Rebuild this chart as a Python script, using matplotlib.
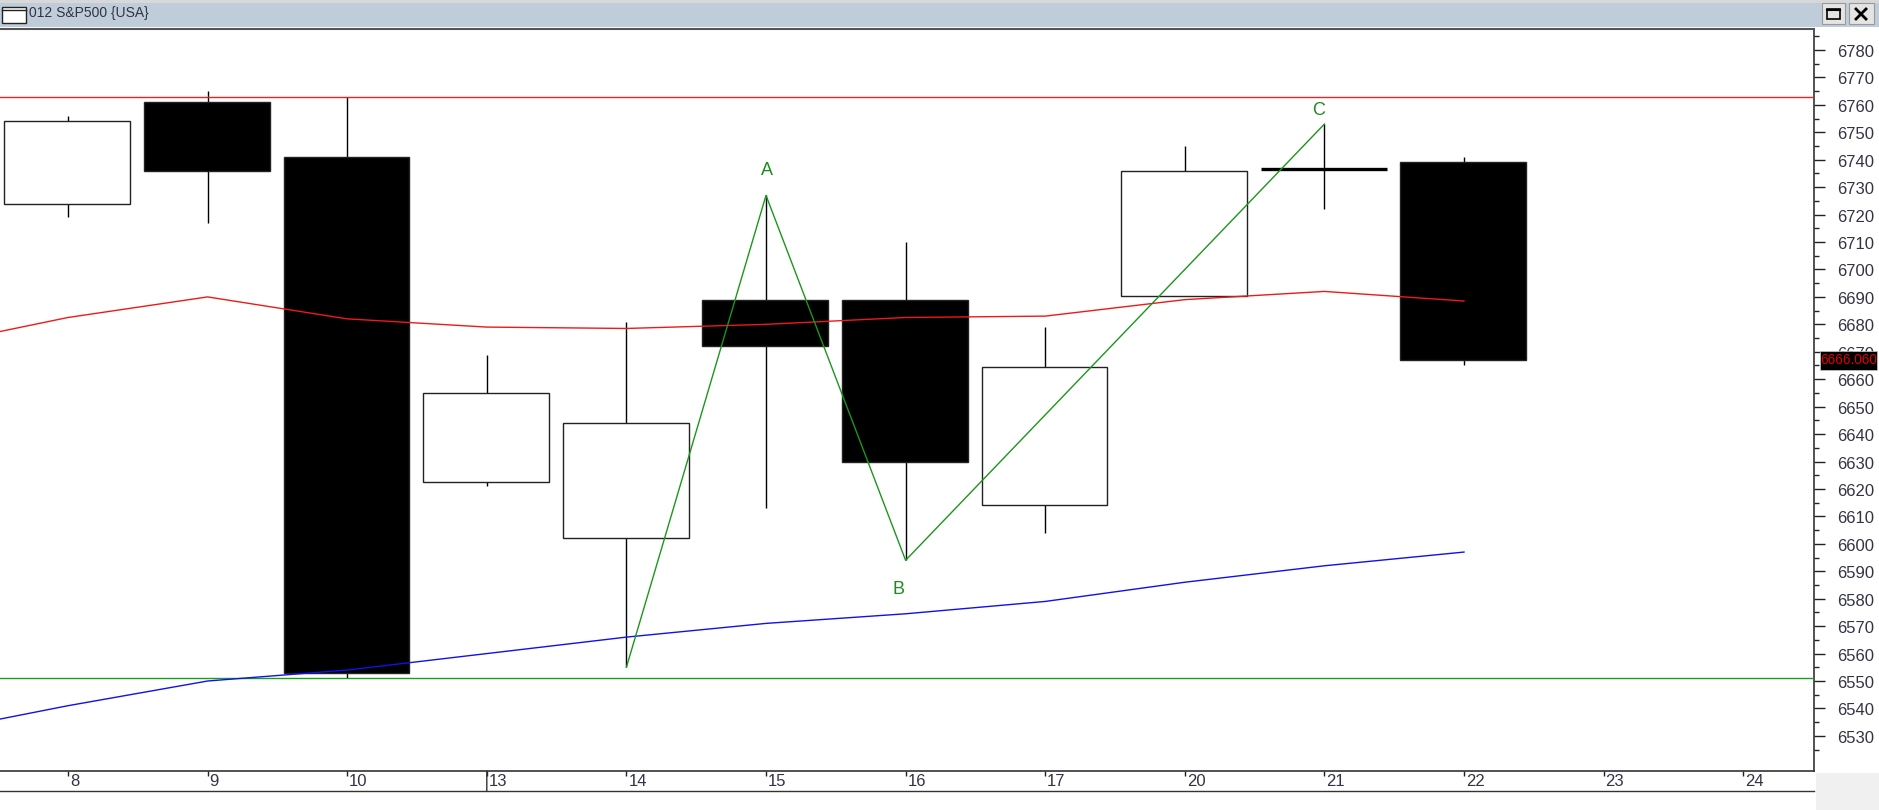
import matplotlib
matplotlib.use("Agg")
import matplotlib.pyplot as plt
from matplotlib.patches import Rectangle
from matplotlib.transforms import ScaledTranslation

plt.rcParams["font.family"] = ["Liberation Sans", "DejaVu Sans"]

days = [8, 9, 10, 13, 14, 15, 16, 17, 20, 21, 22, 23, 24]
opens = [6724, 6761, 6741, 6622.5, 6602, 6689, 6689, 6614, 6690.5, 6736.5, 6739]
closes = [6754, 6736, 6553, 6655, 6644, 6672, 6630, 6664.5, 6736, 6736.5, 6667]
highs = [6756, 6765, 6763, 6669, 6681, 6727, 6710, 6679, 6745, 6753, 6741]
lows = [6719, 6717, 6551, 6621, 6555, 6613, 6594, 6604, 6690.5, 6722, 6665]

ma_x = [-1, 0, 1, 2, 3, 4, 5, 6, 7, 8, 9, 10]
red_ma = [6672, 6682.5, 6690, 6682, 6679, 6678.5, 6680, 6682.5, 6683, 6689, 6692, 6688.5]
blue_ma = [6531, 6541, 6550, 6554, 6560, 6566, 6571, 6574.5, 6579, 6586, 6592, 6597]

wave_x = [4, 5, 6, 9]
wave_y = [6555, 6727, 6594, 6753]
wave_labels = ["A", "B", "C"]
wave_label_x = [5.01, 5.95, 8.96]
wave_label_y = [6736.2, 6583.5, 6757.8]

resistance = 6763
support = 6551
last_price = 6666.06

W, H = 1879, 810
fig = plt.figure(figsize=(W / 100, H / 100), dpi=100, facecolor="white")

# plot area in pixels: x 0-1814, y 29-771
ax = fig.add_axes([0, 1 - 771 / H, 1814 / W, (771 - 29) / H])
ax.set_xlim(-68 / 139.6, (1814 - 68) / 139.6)
ax.set_ylim(6517.2, 6787.65)

for i in range(len(opens)):
    ax.vlines(i, lows[i], highs[i], color="black", lw=1.0, zorder=2)
    top, bottom = max(opens[i], closes[i]), min(opens[i], closes[i])
    if top == bottom:
        ax.hlines(top, i - 0.455, i + 0.445, color="black", lw=2.4, zorder=3)
        continue
    face = "white" if closes[i] > opens[i] else "black"
    # bodies sit a touch left of the wick in the reference
    ax.bar(i - 0.005, top - bottom, width=0.9, bottom=bottom, facecolor=face,
           edgecolor="#222222", lw=1.0, zorder=3)

ax.axhline(resistance, color="#f02020", lw=1.0, zorder=4)
ax.axhline(support, color="#18a018", lw=1.0, zorder=4)
ax.plot(ma_x, red_ma, color="#f01818", lw=1.0, zorder=5)
ax.plot(ma_x, blue_ma, color="#1010f0", lw=1.0, zorder=5)
ax.plot(wave_x, wave_y, color="#1c961c", lw=1.0, zorder=6)
for lab, lx, ly in zip(wave_labels, wave_label_x, wave_label_y):
    ax.text(lx, ly, lab, color="#1c8c1c", fontsize=13, ha="center", va="center", zorder=6)

# axes
ax.spines["left"].set_visible(False)
ax.spines["top"].set_color("#555555")
ax.spines["top"].set_linewidth(1.5)
ax.spines["bottom"].set_color("#333333")
ax.spines["bottom"].set_linewidth(1.2)
ax.spines["right"].set_color("#333333")
ax.spines["right"].set_linewidth(1.2)

ax.yaxis.tick_right()
ax.set_yticks(list(range(6530, 6790, 10)))
ax.set_yticks(list(range(6525, 6790, 10)), minor=True)
ax.tick_params(axis="y", which="major", length=7.7, width=1.0, pad=9,
               labelsize=12, labelcolor="#333344", color="#222222")
ax.tick_params(axis="y", which="minor", length=3.4, width=1.0, color="#222222")
yshift = ScaledTranslation(0, -1 / 100, fig.dpi_scale_trans)
for lab in ax.get_yticklabels():
    lab.set_transform(lab.get_transform() + yshift)

ax.set_xticks(list(range(len(days))))
ax.set_xticklabels([str(d) for d in days])
ax.tick_params(axis="x", length=3.6, width=1.0, pad=-1.5,
               labelsize=12, labelcolor="#333344", color="#222222")
shift = ScaledTranslation(2 / 100, 0, fig.dpi_scale_trans)
for lab in ax.get_xticklabels():
    lab.set_ha("left")
    lab.set_transform(lab.get_transform() + shift)

# week separator at 13 runs the full height of the date strip
ax.annotate("", xy=(3, 0), xycoords=("data", "axes fraction"),
            xytext=(0, -14.5), textcoords="offset points",
            arrowprops=dict(arrowstyle="-", color="#333333", lw=1.0, shrinkA=0, shrinkB=0))


def px_rect(x0, y0, x1, y1, **kw):
    fig.add_artist(Rectangle((x0 / W, 1 - y1 / H), (x1 - x0) / W, (y1 - y0) / H,
                             transform=fig.transFigure, **kw))


def px_line(x0, y0, x1, y1, **kw):
    fig.add_artist(plt.Line2D([x0 / W, x1 / W], [1 - y0 / H, 1 - y1 / H],
                              transform=fig.transFigure, **kw))


# last price tag
px_rect(1820, 351, 1877, 370, fc="black", ec="#cccccc", lw=0.5, zorder=5)
fig.text(1848.5 / W, 1 - 360.5 / H, f"{last_price:.3f}", color="#e00000", fontsize=9.8,
         ha="center", va="center", zorder=6)

# window chrome
px_rect(0, 0, W, 3, fc="#d8d8d8", ec="none")
px_rect(0, 3, W, 27, fc="#bfcddb", ec="none")
px_rect(2, 7, 26, 23, fc="white", ec="#222222", lw=1.0)
px_line(2, 10, 26, 10, color="#222222", lw=1.0)
fig.text(29 / W, 1 - 12 / H, "012 S&P500 {USA}", fontsize=10, color="#333344",
         ha="left", va="center_baseline")
for x0, x1 in [(1822, 1845), (1849, 1874)]:
    px_rect(x0, 3, x1, 24, fc="#e4e4e4", ec="#999999", lw=0.8)
px_rect(1827, 9, 1840, 19, fc="none", ec="black", lw=1.2)
px_line(1827, 10, 1840, 10, color="black", lw=1.5)
px_line(1856, 9, 1866, 19, color="black", lw=2.0)
px_line(1866, 9, 1856, 19, color="black", lw=2.0)

# date strip bottom edge and corner box
px_line(0, 791, 1814, 791, color="#333333", lw=1.0)
px_rect(1816, 773, W, H, fc="#f0f0f0", ec="none")

fig.savefig("out.png", dpi=100)
